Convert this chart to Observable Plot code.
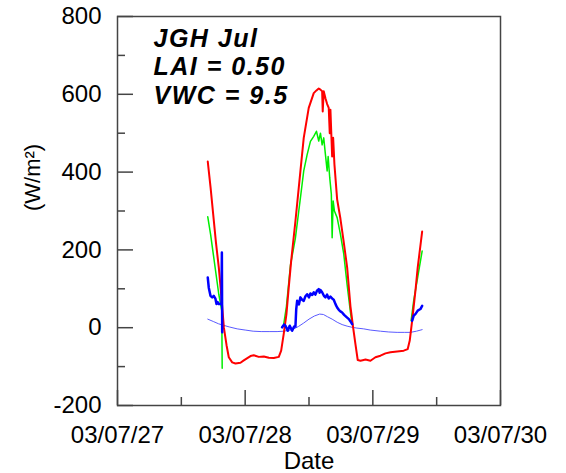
<!DOCTYPE html>
<html><head><meta charset="utf-8">
<script src="https://cdn.jsdelivr.net/npm/d3@7"></script>
<script src="https://cdn.jsdelivr.net/npm/@observablehq/plot@0.6"></script>
<style>
body{margin:0;background:#fff;}
svg{font-family:"Liberation Sans",Arial,sans-serif;}
</style>
</head><body><div id="chart"></div>
<script>
// Hours after 2003-07-27 00:00 (UTC) and values (W/m²)
const baseDate = Date.UTC(2003, 6, 27);

const redHours = [16.97,17.5,18.0,18.5,19.04,19.5,20.0,20.5,20.92,21.56,22.18,23.12,23.74,25.0,25.62,26.56,27.5,28.44,29.38,30.32,30.77,31.25,31.76,32.19,32.65,33.45,34.39,35.01,35.95,36.89,37.4,37.83,38.15,38.47,38.58,38.77,39.09,39.41,39.71,39.9,40.03,40.35,40.54,40.78,41.29,41.91,42.53,43.17,43.79,44.3,44.73,45.16,45.67,46.29,46.61,47.55,48.49,49.43,50.37,51.31,52.57,53.81,54.56,54.94,55.39,56.01,56.44,57.27];
const redValues = [427,360,290,220,155,85,0,-45,-76,-89,-92,-90,-84,-73,-71,-75,-74,-77,-78,-75,-59,-16,35,103,172,274,403,488,565,603,610,615,612,608,556,608,590,575,565,500,560,440,488,420,330,280,220,155,55,0,-42,-83,-85,-83,-82,-85,-76,-72,-66,-63,-61,-59,-55,-33,18,95,155,247];

const greenHours = [16.97,17.5,18.0,18.5,19.04,19.6,19.68,25,31.25,31.76,32.51,33.45,34.39,35.01,35.65,36.27,36.89,37.4,37.83,38.15,38.47,38.77,39.09,39.41,39.6,39.9,40.2,40.35,40.54,40.78,41.29,41.91,42.53,43.17,43.79,44.11,50,55.2,55.69,56.44,57.27];
const greenValues = [285,240,190,140,86,44,-104,null,9,55,160,231,334,403,445,479,492,505,480,500,470,488,445,403,440,385,343,231,326,300,283,240,190,110,40,9,null,18,70,130,197];

const blueHours = [16.97,17.16,17.48,17.8,18.1,18.4,18.61,18.8,19.04,19.55,19.62,19.68,25,30.95,31.3,31.58,32.0,32.38,32.83,33.2,33.45,33.6,33.77,34.1,34.39,34.7,35.01,35.3,35.65,36.0,36.27,36.6,36.89,37.2,37.5,37.83,38.0,38.15,38.47,38.8,39.09,39.4,39.71,40.03,40.35,40.65,41.0,41.29,41.6,41.9,42.23,42.6,43.17,43.5,43.8,44.11,50,55.39,55.69,56.0,56.44,56.95,57.27];
const blueValues = [129,103,82,78,82,75,61,66,61,61,193,-12,null,1,8,5,-8,5,-8,3,3,48,69,60,78,72,69,80,86,78,88,84,91,85,95,99,90,97,91,82,78,85,75,80,75,72,60,52,46,42,39,33,26,22,16,9,null,18,31,35,44,48,56];

const lightBlueHours = [16.97,18,19,20,21,22.5,24,25.5,27,28.5,30,31.25,32.5,33.0,34.0,35.0,36.0,37.0,38.0,38.7,39.5,40.35,41.3,42.23,43.17,44.11,45,46.29,47.5,49.43,51,52.57,54,55.07,56.2,57.27];
const lightBlueValues = [22,16,10,6,2,-3,-6,-9,-10,-10,-10,-9,-6,-4,3,12,22,30,35,34,28,22,14,8,4,1,-1,-3,-6,-9,-11,-12,-12,-12,-9,-5];

const xMajorTicks = ["2003-07-27","2003-07-28","2003-07-29","2003-07-30"];
const xMinorTicks = ["2003-07-27T12:00","2003-07-28T12:00","2003-07-29T12:00"];
const yMajorTicks = [-200,0,200,400,600,800];
const yMinorTicks = [-100,100,300,500,700];
const titleLines = ["JGH Jul","LAI = 0.50","VWC = 9.5"];
const yLabel = "(W/m²)";
const xLabel = "Date";

const toDate = h => new Date(baseDate + h * 3600000);
const rows = (hours, values) => hours.map((h, i) => ({t: toDate(h), v: values[i]}));
const parseUTC = s => new Date(s + (s.length > 10 ? ":00Z" : "T00:00:00Z"));

const fmt = d3.utcFormat("%y/%m/%d");
const axisColor = "#444";

const chart = Plot.plot({
  width: 566, height: 473,
  marginLeft: 117, marginRight: 66, marginTop: 16, marginBottom: 68,
  style: {fontFamily: "Liberation Sans, Arial, sans-serif", background: "white", color: "black", overflow: "visible"},
  x: {type: "utc", domain: [parseUTC(xMajorTicks[0]), parseUTC(xMajorTicks[3])]},
  y: {domain: [-200, 800]},
  marks: [
    Plot.line(rows(lightBlueHours, lightBlueValues), {x: "t", y: "v", stroke: "#5a5aff", strokeWidth: 1}),
    Plot.line(rows(greenHours, greenValues), {x: "t", y: "v", stroke: "#00ee00", strokeWidth: 1.5}),
    Plot.line(rows(redHours, redValues), {x: "t", y: "v", stroke: "#ff0000", strokeWidth: 2}),
    Plot.line(rows(blueHours, blueValues), {x: "t", y: "v", stroke: "#0000ff", strokeWidth: 2.5}),
    Plot.frame({stroke: axisColor, strokeWidth: 1.5}),
    Plot.axisY(yMajorTicks, {tickSize: -16, tickPadding: 32, fontSize: 24, label: null, stroke: axisColor, strokeWidth: 1.5, fill: "black", tickFormat: d => String(d)}),
    Plot.axisY(yMinorTicks, {tickSize: -8, tickPadding: 0, label: null, stroke: axisColor, strokeWidth: 1.5, tickFormat: () => ""}),
    Plot.axisX(xMajorTicks.map(parseUTC), {tickSize: -15, tickPadding: 35, fontSize: 24, label: null, stroke: axisColor, strokeWidth: 1.5, fill: "black", tickFormat: fmt}),
    Plot.axisX(xMinorTicks.map(parseUTC), {tickSize: -8, tickPadding: 0, label: null, stroke: axisColor, strokeWidth: 1.5, tickFormat: () => ""}),
    Plot.text([titleLines.join("\n")], {text: d => d, frameAnchor: "top-left", textAnchor: "start", lineAnchor: "top", dx: 36, dy: 10, fontSize: 25, fontWeight: "bold", fontStyle: "italic", lineHeight: 1.14, fill: "black"}),
    Plot.text([yLabel], {text: d => d, frameAnchor: "left", rotate: -90, dx: -85, fontSize: 22, fill: "black"}),
    Plot.text([xLabel], {text: d => d, frameAnchor: "bottom", dy: 63, fontSize: 24, fill: "black"})
  ]
});
document.getElementById("chart").appendChild(chart);
// widen the bold italic annotation like the reference
d3.select(chart).selectAll("text").filter(function(){ return this.textContent.startsWith(titleLines[0]); })
  .style("letter-spacing", "1.5px");
</script>
</body></html>
